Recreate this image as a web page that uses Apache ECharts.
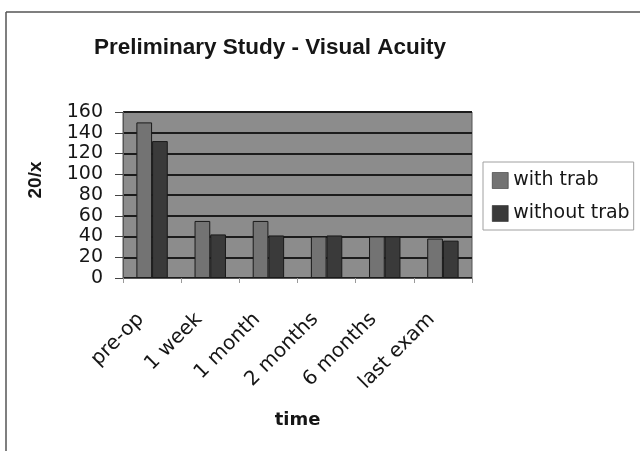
<!DOCTYPE html>
<html>
<head>
<meta charset="utf-8">
<script src="https://cdn.jsdelivr.net/npm/echarts@6/dist/echarts.min.js"></script>
<style>
  html, body { margin: 0; padding: 0; background: #fff; }
  #chart { width: 640px; height: 451px; }
</style>
</head>
<body>
<div id="chart"></div>
<script>
// Visual acuity (20/x) at each follow-up time point
const categories = ['pre-op', '1 week', '1 month', '2 months', '6 months', 'last exam'];
const withTrab = [150, 55, 55, 40, 40, 38];
const withoutTrab = [132, 42, 41, 41, 40, 36];
const yTicks = { min: 0, max: 160, interval: 20 };

const sans = '"DejaVu Sans", Verdana, sans-serif';
const titleFont = '"Liberation Sans", Arial, Helvetica, sans-serif';
const ink = '#161616';
const chart = echarts.init(document.getElementById('chart'), null, { renderer: 'canvas' });

chart.setOption({
  backgroundColor: '#ffffff',
  animation: false,
  title: {
    text: 'Preliminary Study - Visual Acuity',
    left: 265,
    textAlign: 'center',
    top: 31,
    textStyle: { fontFamily: titleFont, fontSize: 22.5, fontWeight: 'bold', color: ink }
  },
  legend: {
    orient: 'vertical',
    left: 483,
    top: 162,
    itemWidth: 16,
    itemHeight: 16,
    itemGap: 14,
    padding: [9, 4, 7, 9],
    borderColor: '#a0a0a0',
    borderWidth: 1,
    icon: 'rect',
    itemStyle: { borderColor: '#1a1a1a', borderWidth: 0.5 },
    textStyle: { fontFamily: sans, fontSize: 19, color: ink },
    data: ['with trab', 'without trab']
  },
  grid: {
    left: 123, right: 168, top: 112, bottom: 173,
    show: true,
    backgroundColor: '#8c8c8c',
    borderColor: '#555',
    borderWidth: 1
  },
  xAxis: {
    type: 'category',
    data: categories,
    name: 'time',
    nameLocation: 'middle',
    nameGap: 133,
    nameTextStyle: { fontFamily: sans, fontSize: 18, fontWeight: 'bold', color: ink },
    axisLine: { show: true, lineStyle: { color: '#555', width: 1 } },
    axisTick: { show: true, alignWithLabel: false, length: 5, lineStyle: { color: '#9a9a9a' } },
    axisLabel: {
      rotate: 45,
      margin: 27,
      padding: [0, 16, 0, 0],
      fontFamily: sans,
      fontSize: 20,
      color: ink
    }
  },
  yAxis: {
    type: 'value',
    min: yTicks.min,
    max: yTicks.max,
    interval: yTicks.interval,
    axisLine: { show: true, lineStyle: { color: '#555' } },
    axisTick: { show: true, length: 8, lineStyle: { color: '#444' } },
    axisLabel: { fontFamily: sans, fontSize: 19, color: ink, margin: 20 },
    splitLine: { show: true, lineStyle: { color: '#1c1c1c', width: 1.8 } }
  },
  series: [
    {
      name: 'with trab',
      type: 'bar',
      data: withTrab,
      barGap: '0%',
      barCategoryGap: '46%',
      itemStyle: { color: '#737373', borderColor: '#1a1a1a', borderWidth: 1 }
    },
    {
      name: 'without trab',
      type: 'bar',
      data: withoutTrab,
      itemStyle: { color: '#3a3a3a', borderColor: '#1a1a1a', borderWidth: 1 }
    }
  ],
  graphic: [
    // y-axis title, rotated to read bottom-to-top
    {
      type: 'text',
      x: 36, y: 180,
      rotation: Math.PI / 2,
      style: {
        text: '20/x',
        font: 'bold 19px "Liberation Sans", Arial, sans-serif',
        fill: ink,
        align: 'center',
        verticalAlign: 'middle'
      }
    },
    // chart frame: top and left edges
    { type: 'line', shape: { x1: 6, y1: 12, x2: 640, y2: 12 }, style: { stroke: '#555', lineWidth: 1.5 } },
    { type: 'line', shape: { x1: 6, y1: 12, x2: 6, y2: 451 }, style: { stroke: '#555', lineWidth: 1.5 } }
  ]
});
</script>
</body>
</html>
